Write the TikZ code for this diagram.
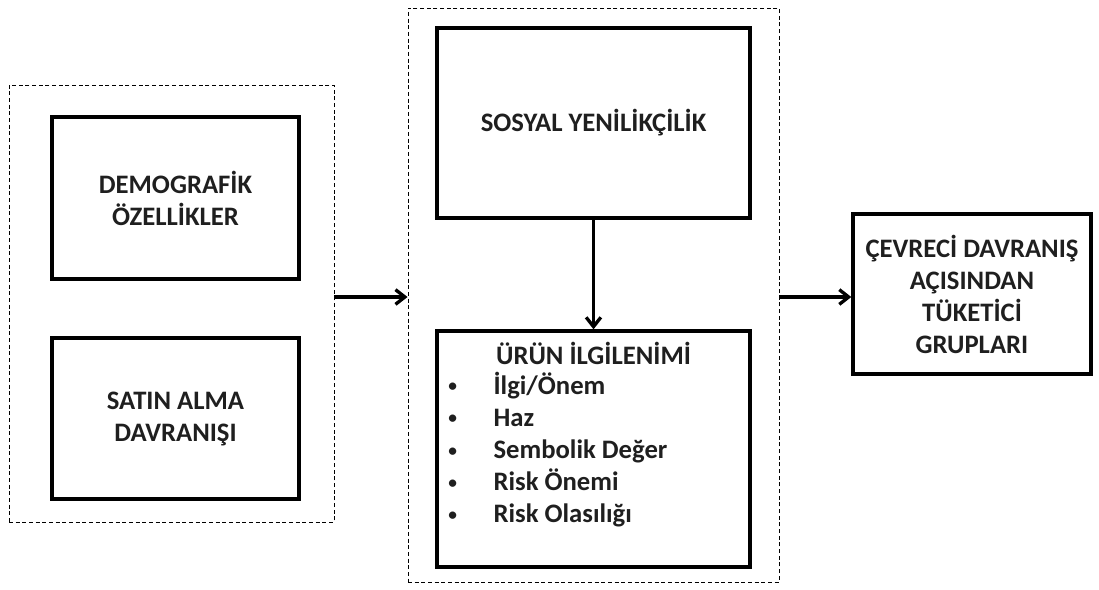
\documentclass[tikz,border=0pt]{standalone}
\usepackage{fontspec}
\setmainfont{Carlito}
\usetikzlibrary{arrows.meta,calc}
\begin{document}
\begin{tikzpicture}[x=0.75pt,y=-0.75pt,
  solidbox/.style={draw, line width=2.5pt, rectangle, inner sep=0pt,
    font=\fontsize{20}{24}\selectfont\bfseries, align=center, text=black!88},
  dashbox/.style={draw, line width=0.7pt, dash pattern=on 3pt off 2pt, rectangle, inner sep=0pt},
  txt/.style={font=\fontsize{20}{24}\selectfont\bfseries, inner sep=0pt, text=black!88},
  arr/.style={line width=2.5pt, -{Straight Barb[length=7pt,width=11pt,line width=2.5pt]}}]
\useasboundingbox (0,0) rectangle (1099,589);

% left group
\node[dashbox, minimum width=243.75pt, minimum height=327.75pt] (ldash) at (171.5,303.5) {};
\node[solidbox, minimum width=185.25pt, minimum height=121.5pt] (demo) at (175.5,198) {DEMOGRAFİK\\ÖZELLİKLER};
\node[solidbox, minimum width=185.25pt, minimum height=120.75pt] (satin) at (175.5,418.5) {SATIN ALMA\\DAVRANIŞI};

% middle group
\node[dashbox, minimum width=278.25pt, minimum height=430.5pt] (mdash) at (593.5,295) {};
\node[solidbox, minimum width=234.75pt, minimum height=142.5pt] (sosyal) at (593.5,123) {SOSYAL YENİLİKÇİLİK};
\node[solidbox, minimum width=234.75pt, minimum height=177pt] (urun) at (593.5,449) {};
\node[txt, anchor=base] (urunbaslik) at (593.5,364) {ÜRÜN İLGİLENİMİ};
\foreach \t [count=\i] in {İlgi/Önem, Haz, Sembolik Değer, Risk Önemi, Risk Olasılığı}{
  \node[txt, anchor=base west] (madde\i) at (448,{394+32.2*(\i-1)})
    {\makebox[34pt][l]{\raisebox{1.8pt}{\fontsize{13}{13}\selectfont •}}\t};
}

% result
\node[solidbox, minimum width=178.5pt, minimum height=120pt] (sonuc) at (972,294) {ÇEVRECİ DAVRANIŞ\\AÇISINDAN\\TÜKETİCİ\\GRUPLARI};

% connectors
\coordinate (oky) at (0,297);
\draw[arr] (ldash.east |- oky) -- (mdash.west |- oky);
\draw[arr] (mdash.east |- oky) -- (sonuc.west |- oky);
\draw[arr] (sosyal.south) -- (urun.north);
\end{tikzpicture}
\end{document}
